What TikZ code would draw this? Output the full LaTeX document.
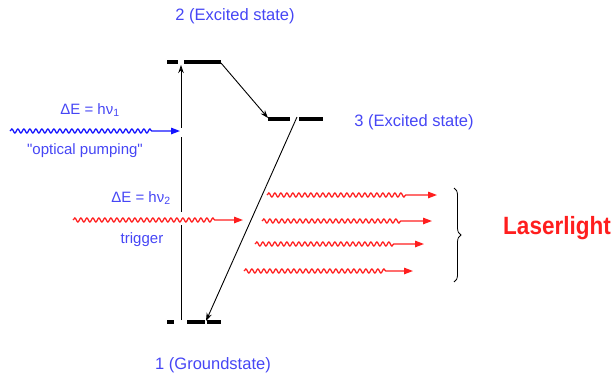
\documentclass[tikz,border=0pt]{standalone}
\usepackage{fontspec}
\setmainfont{Liberation Sans}
\newfontfamily\plainsans{Liberation Sans}
\usetikzlibrary{decorations.pathmorphing,decorations.pathreplacing,arrows.meta}
\definecolor{txtblue}{RGB}{70,70,245}
\definecolor{wblue}{RGB}{20,20,255}
\definecolor{wred}{RGB}{255,30,30}
\tikzset{
  bar/.style={fill=black, draw=none, inner sep=0pt, minimum height=4pt},
  lbl/.style={text=txtblue, inner sep=0pt, font=\fontsize{15}{18}\selectfont},
  statelbl/.style={text=txtblue, inner sep=0pt, font=\fontsize{16.5}{19}\selectfont},
  trans/.style={black, line width=0.9pt, -{Stealth[length=8pt,width=5.5pt]}},
  gapline/.style={white, line width=3pt},
  wave/.style={line width=1.3pt, decorate, decoration={snake, amplitude=2pt, segment length=6pt, post length=#1}, -{Triangle[length=9pt,width=6.5pt]}},
}
\begin{document}
\begin{tikzpicture}[x=1pt,y=-1pt]
\useasboundingbox (0,0) rectangle (613,378);
% energy levels
\node[bar, minimum width=11pt] (l2a) at (172.5,62) {};
\node[bar, minimum width=37pt] (l2b) at (202.5,62) {};
\node[bar, minimum width=22pt] (l3a) at (279,119) {};
\node[bar, minimum width=24pt] (l3b) at (311,119) {};
\node[bar, minimum width=7pt] (l1a) at (170.5,322) {};
\node[bar, minimum width=18pt] (l1b) at (196,322) {};
\node[bar, minimum width=14pt] (l1c) at (214,322) {};
% transition endpoints
\coordinate (v1) at (181,320);
\coordinate (v2) at (181,65);
\coordinate (d1) at (221,63);
\coordinate (d2) at (268,118);
\coordinate (e1) at (297,117);
\coordinate (e2) at (206,321);
\draw[trans] (v1) -- (v2);
\draw[trans] (d1) -- (d2);
\draw[trans] (e1) -- (e2);
% small breaks in the vertical line
\coordinate (g1a) at (181,128); \coordinate (g1b) at (181,137);
\coordinate (g2a) at (181,212); \coordinate (g2b) at (181,225);
\draw[gapline] (g1a) -- (g1b);
\draw[gapline] (g2a) -- (g2b);
% state labels
\node[statelbl] (s2) at (235,16) {2 (Excited state)};
\node[statelbl] (s3) at (414,122) {3 (Excited state)};
\node[statelbl] (s1) at (213,365) {1 (Groundstate)};
% optical pumping
\coordinate (p0) at (10,131);
\coordinate (p1) at (180,131);
\draw[wave=26pt, wblue] (p0) -- (p1);
\node[lbl] (dE1) at (90,110) {ΔE = hν\textsubscript{1}};
\node[lbl] (op) at (85,151) {\plainsans "optical pumping"};
% trigger
\coordinate (t0) at (73,220);
\coordinate (t1) at (243,220);
\draw[wave=28pt, wred] (t0) -- (t1);
\node[lbl] (dE2) at (141,198) {ΔE = hν\textsubscript{2}};
\node[lbl] (trg) at (142,240) {trigger};
% laser light
\coordinate (a0) at (267,195); \coordinate (a1) at (437,195);
\coordinate (b0) at (262,221); \coordinate (b1) at (432,221);
\coordinate (c0) at (255,244); \coordinate (c1) at (424,244);
\coordinate (f0) at (244,271); \coordinate (f1) at (413,271);
\draw[wave=30pt, wred] (a0) -- (a1);
\draw[wave=30pt, wred] (b0) -- (b1);
\draw[wave=28pt, wred] (c0) -- (c1);
\draw[wave=27pt, wred] (f0) -- (f1);
% brace
\coordinate (br0) at (454,188);
\coordinate (br1) at (454,282);
\draw[black, line width=0.8pt, decorate, decoration={brace, amplitude=7pt}] (br0) -- (br1);
\node[text=wred, inner sep=0pt, font=\bfseries\fontsize{25}{28}\selectfont, xscale=0.9] (laser) at (557,228) {Laserlight};
\end{tikzpicture}
\end{document}
